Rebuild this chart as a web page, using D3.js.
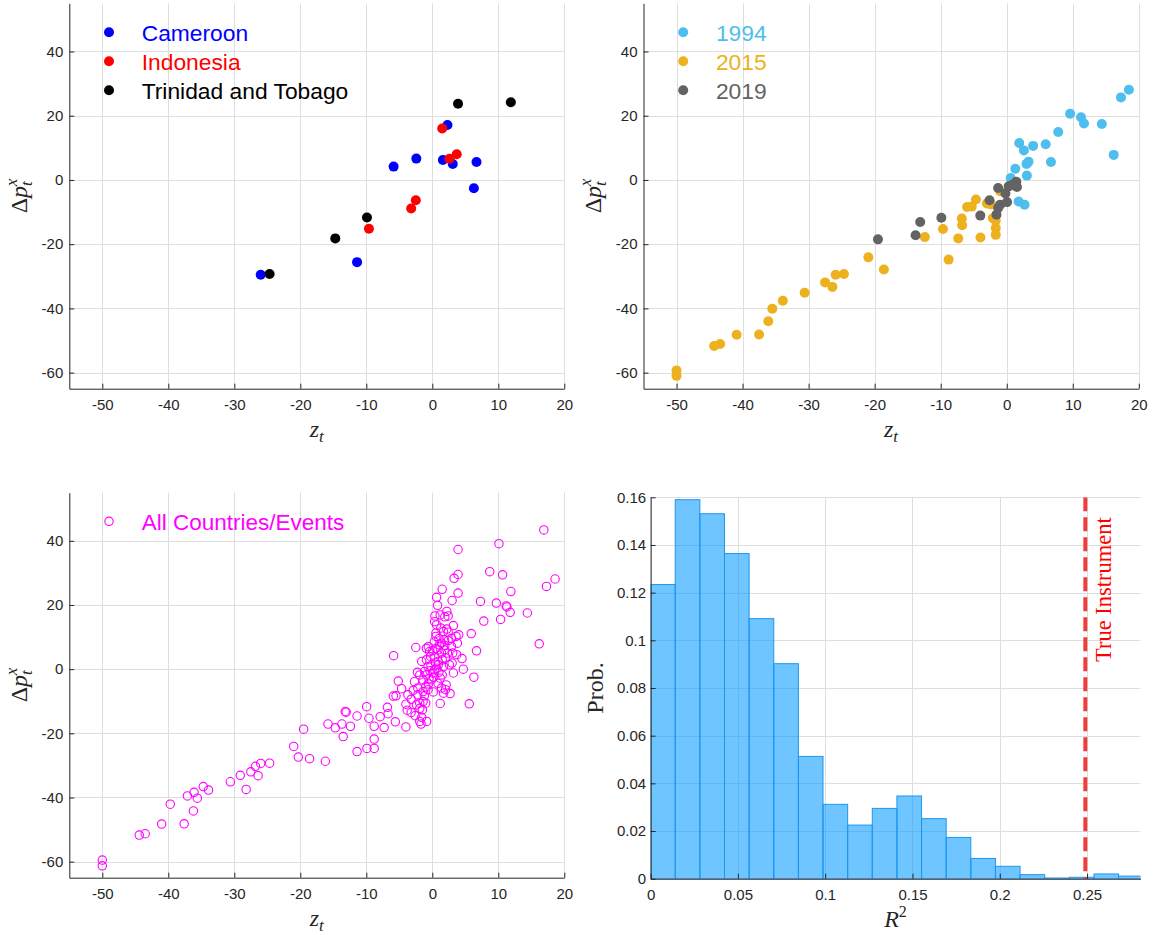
<!DOCTYPE html>
<html>
<head>
<meta charset="utf-8">
<script src="https://cdn.jsdelivr.net/npm/d3@7"></script>
<style>
  html, body { margin: 0; padding: 0; background: #fff; }
  svg { display: block; }
</style>
</head>
<body>
<svg id="fig" width="1155" height="935"></svg>
<script>
// ---------- data ----------
// [z_t, Δp_t^x] pairs per country
const cameroon = [[-26.0,-29.5],[-5.86,4.15],[-2.42,6.64],[1.6,6.2],[2.3,17.1],[3.1,4.98],[6.7,5.6],[6.3,-2.6],[-11.4,-25.6]];
const indonesia = [[1.5,16.0],[2.6,6.6],[3.7,8.0],[-2.5,-6.3],[-3.2,-8.9],[-9.6,-15.2]];
const trinidad = [[3.9,23.7],[11.9,24.2],[-9.9,-11.7],[-14.7,-18.2],[-24.65,-29.3]];

// [z_t, Δp_t^x] pairs per event year
const year1994 = [[18.5,28.1],[17.3,25.7],[9.6,20.6],[11.25,19.5],[11.7,17.6],[14.4,17.4],[7.8,14.9],[1.9,11.5],[2.6,9.2],[4.0,10.6],[5.9,11.1],[16.2,7.8],[6.7,5.6],[3.3,5.7],[3.0,5.0],[1.3,3.5],[3.05,1.35],[0.6,0.6],[1.8,-6.7],[2.7,-7.7]];
const year2015 = [[-50,-59.3],[-50,-61.0],[-44.3,-51.7],[-43.4,-51.1],[-40.9,-48.2],[-37.5,-48.1],[-36.1,-44.0],[-35.5,-40.1],[-33.9,-37.6],[-30.6,-35.1],[-27.5,-31.9],[-26.4,-33.3],[-25.9,-29.5],[-24.65,-29.3],[-20.95,-24.1],[-18.6,-27.9],[-12.4,-17.8],[-9.65,-15.3],[-8.8,-24.8],[-7.34,-18.2],[-6.8,-12.0],[-6.75,-14.1],[-6.0,-8.4],[-5.3,-8.3],[-4.66,-6.1],[-3.97,-17.9],[-3.0,-7.3],[-2.4,-7.6],[-2.1,-11.9],[-1.66,-12.7],[-1.66,-15.0],[-1.66,-17.1],[-1.0,-3.5]];
const year2019 = [[-19.5,-18.5],[-13.8,-17.2],[-13.1,-13.1],[-9.9,-11.8],[-4.0,-11.1],[-2.6,-6.3],[-1.3,-2.5],[-1.55,-10.8],[-1.3,-8.7],[-1.0,-7.7],[-0.2,-4.2],[0.05,-6.9],[0.3,-2.0],[1.45,-0.6],[1.55,-2.2],[0.85,-1.5]];

// every country/event
const allEvents = [
[-50,-59.5],[-50,-61.3],[-44.4,-51.7],[-43.5,-51.3],[-41.0,-48.3],[-39.7,-42.1],[-37.6,-48.2],[-37.1,-39.5],[-36.1,-38.4],[-36.2,-44.2],[-35.6,-40.2],[-34.7,-36.6],[-33.9,-37.7],[-30.6,-35.1],[-29.1,-33.1],[-28.2,-37.5],[-27.5,-32.0],[-26.8,-30.3],[-26.4,-33.2],[-26.0,-29.4],[-24.65,-29.3],[-21.0,-24.1],[-20.3,-27.4],[-19.5,-18.7],[-18.6,-27.9],[-16.2,-28.7],[-15.8,-17.1],[-14.7,-18.3],[-13.7,-17.1],[-13.5,-21.0],[-13.2,-13.2],[-13.05,-13.4],[-12.4,-17.8],[-11.4,-14.6],[-11.4,-25.7],[-9.95,-11.7],[-9.9,-24.7],[-9.6,-15.3],[-8.8,-17.8],[-8.8,-21.8],[-8.8,-24.7],[-7.9,-14.8],[-7.3,-18.2],[-6.8,-11.9],[-6.7,-13.9],[-5.86,4.2],[-5.9,-8.4],[-5.5,-8.3],[-5.6,-16.4],[-5.15,-3.7],[-4.65,-6.1],[-4.0,-10.9],[-4.0,-18.0],[-3.8,-12.8],[-3.2,-9.4],[-2.9,-6.6],[-2.7,-3.9],[-2.6,-14.5],[-2.5,6.75],[-2.25,-1.0],[-2.2,-5.9],[-1.9,-12.2],[-1.7,-17.1],[-1.6,2.4],[-1.6,-15.0],[-1.5,-12.7],[-1.4,-10.1],[-1.4,-3.4],[-1.2,-8.3],[-1.0,-10.6],[-0.86,-16.3],[-0.6,7.0],[-0.9,-1.8],[-0.6,-4.6],[-0.35,-0.5],[-0.1,-3.3],[0.05,5.7],[0.15,-7.1],[0.4,3.9],[0.65,22.4],[0.8,19.9],[0.4,16.6],[0.65,13.8],[0.55,10.2],[1.2,-10.7],[1.5,24.9],[1.2,16.9],[1.3,12.8],[1.4,8.1],[1.1,7.6],[0.9,1.35],[1.5,-1.8],[1.7,-7.5],[2.0,-6.4],[2.2,18.0],[2.4,16.6],[2.2,12.5],[2.3,5.0],[2.7,-7.6],[3.0,21.4],[3.2,13.6],[3.1,5.0],[3.0,1.9],[3.2,-1.2],[3.3,28.3],[3.9,37.3],[3.9,29.5],[3.9,23.7],[3.8,8.1],[4.0,10.7],[4.5,3.3],[4.7,0],[5.6,-10.8],[5.9,11.1],[6.3,-2.5],[6.7,5.7],[7.3,21.1],[7.8,15.0],[8.7,30.4],[9.7,20.6],[10.1,39.1],[10.35,15.5],[10.65,29.4],[11.2,19.7],[11.3,19.4],[11.8,17.7],[11.9,24.2],[14.4,17.5],[16.2,7.9],[16.9,43.4],[17.3,25.8],[18.6,28.1],
[1.9,16.3],[0.35,14.8],[0.55,11.2],[1.7,11.7],[2.4,11.5],[3.6,10.2],[2.9,9.6],[2.4,8.9],[1.9,7.4],[0.55,6.5],[1.4,5.0],[3.7,4.5],[-0.9,2.9],[-0.25,3.9],[0.9,2.4],[0.65,0.3],[1.7,0.8],[0.15,-1.25],[1.2,-2.8],[1.4,-5.9],[-0.9,6.5],[-0.4,5.5],[0.86,6.0],[1.87,9.1],[2.9,7.1],[2.6,1.35],[1.5,2.9],[0.35,-0.2],[-0.65,0.8],[-1.2,-0.7],[-1.9,-1.8],[-3.7,-8.0],[-2.2,-8.0],[-1.4,-7.0],[-0.65,-6.4],[0.86,-4.4],[2.1,-4.9],[-1.9,-10.6],[-2.4,-11.1],[-1.9,-16.3],[-3.2,-13.5],
[0.2,-2.5],[-0.5,-3.0],[1.0,-1.0],[0.5,2.0],[-1.0,-5.5],[2.0,3.5],[1.8,6.0],[0.3,8.5],[1.0,9.5],[-0.2,1.0]
];

// R^2 histogram: probability per bin, bins start at 0
const r2BinWidth = 0.014108;
const r2Prob = [0.1234,0.1590,0.1531,0.1364,0.1091,0.0902,0.0513,0.0312,0.0225,0.0295,0.0347,0.0252,0.0173,0.0085,0.0052,0.0017,0.0003,0.0006,0.0020,0.0011];
const trueInstrumentR2 = 0.249;

// axis ticks
const zTicks = [-50,-40,-30,-20,-10,0,10,20];
const dpTicks = [-60,-40,-20,0,20,40];
const r2Ticks = [0,0.05,0.1,0.15,0.2,0.25];
const probTicks = [0,0.02,0.04,0.06,0.08,0.1,0.12,0.14,0.16];

const countryLegend = ["Cameroon","Indonesia","Trinidad and Tobago"];
const yearLegend = ["1994","2015","2019"];
const allLegend = "All Countries/Events";
const lineLabel = "True Instrument";

// ---------- drawing ----------
const svg = d3.select("#fig");
const SANS = "'Liberation Sans', Arial, Helvetica, sans-serif";
const SERIF = "'Liberation Serif', 'Times New Roman', serif";
const AXC = "#262626";
const GRID = "#dedede";

let clipId = 0;
function panel(box, xDom, yDom, xTicks, yTicks, fmt, yPad) {
  const g = svg.append("g");
  const x = d3.scaleLinear().domain(xDom).range([box.x0, box.x1]);
  const y = d3.scaleLinear().domain(yDom).range([box.y1, box.y0]);
  const grid = g.append("g").attr("stroke", GRID).attr("stroke-width", 1);
  grid.selectAll(".gx").data(xTicks).join("line")
    .attr("x1", d => Math.round(x(d)) + 0.5).attr("x2", d => Math.round(x(d)) + 0.5)
    .attr("y1", box.y0).attr("y2", box.y1);
  grid.selectAll(".gy").data(yTicks).join("line")
    .attr("y1", d => Math.round(y(d)) + 0.5).attr("y2", d => Math.round(y(d)) + 0.5)
    .attr("x1", box.x0).attr("x2", box.x1);
  const id = "clip" + (clipId++);
  svg.append("clipPath").attr("id", id).append("rect")
    .attr("x", box.x0).attr("y", box.y0).attr("width", box.x1 - box.x0).attr("height", box.y1 - box.y0);
  const plot = g.append("g").attr("clip-path", `url(#${id})`);
  const axes = g.append("g");
  const ax = axes.append("g").attr("transform", `translate(0,${box.y1})`)
    .call(d3.axisBottom(x).tickValues(xTicks).tickFormat(fmt).tickSizeInner(-5).tickSizeOuter(0).tickPadding(11));
  const ay = axes.append("g").attr("transform", `translate(${box.x0},0)`)
    .call(d3.axisLeft(y).tickValues(yTicks).tickFormat(fmt).tickSizeInner(-5).tickSizeOuter(0).tickPadding(yPad));
  [ax, ay].forEach(a => {
    a.selectAll("path").attr("stroke", AXC).attr("stroke-width", 1);
    a.selectAll("line").attr("stroke", AXC);
    a.selectAll("text").attr("fill", AXC).attr("font-family", SANS).attr("font-size", 15);
  });
  return { g, x, y, plot, axes };
}

const numFmt = d => String(+d.toFixed(2));

function dpLabel(cx, cy) {
  const t = svg.append("text").attr("transform", `translate(${cx},${cy}) rotate(-90)`)
    .attr("text-anchor", "middle").attr("font-family", SERIF).attr("font-size", 24).attr("fill", AXC);
  t.append("tspan").text("Δ");
  t.append("tspan").attr("font-style", "italic").text("p");
  t.append("tspan").attr("font-style", "italic").attr("font-size", 17).attr("dy", 5).text("t");
  t.append("tspan").attr("font-style", "italic").attr("font-size", 17).attr("dx", -5).attr("dy", -15).text("x");
}
function zLabel(cx, by) {
  const t = svg.append("text").attr("x", cx).attr("y", by).attr("text-anchor", "middle")
    .attr("font-family", SERIF).attr("font-size", 24).attr("fill", AXC);
  t.append("tspan").attr("font-style", "italic").text("z");
  t.append("tspan").attr("font-style", "italic").attr("font-size", 17).attr("dy", 5).text("t");
}

function dots(p, data, color) {
  p.plot.append("g").selectAll("circle").data(data).join("circle")
    .attr("cx", d => p.x(d[0])).attr("cy", d => p.y(d[1])).attr("r", 5).attr("fill", color);
}
function legend(x0, y0, items) {
  items.forEach((it, i) => {
    const yy = y0 + i * 29;
    svg.append("circle").attr("cx", x0).attr("cy", yy).attr("r", 5).attr("fill", it.color);
    svg.append("text").attr("x", x0 + 32.7).attr("y", yy + 8.5)
      .attr("font-family", SANS).attr("font-size", 22.8).attr("fill", it.color).text(it.label);
  });
}

// --- top left: countries ---
const tl = panel({x0: 69.3, x1: 564.3, y0: 3.3, y1: 388.7}, [-55, 20], [-65, 55], zTicks, dpTicks, numFmt, 6);
dots(tl, cameroon, "#0000ff");
dots(tl, indonesia, "#ff0000");
dots(tl, trinidad, "#000000");
legend(109, 32.3, [
  {label: countryLegend[0], color: "#0000ff"},
  {label: countryLegend[1], color: "#ff0000"},
  {label: countryLegend[2], color: "#000000"}]);
dpLabel(27, 196);
zLabel(316.8, 437);

// --- top right: event years ---
const tr = panel({x0: 643.5, x1: 1138.8, y0: 3.3, y1: 388.7}, [-55, 20], [-65, 55], zTicks, dpTicks, numFmt, 6);
const c1994 = "#4dbeee", c2015 = "#edb120", c2019 = "#636363";
dots(tr, year1994, c1994);
dots(tr, year2015, c2015);
dots(tr, year2019, c2019);
legend(683.2, 32.3, [
  {label: yearLegend[0], color: c1994},
  {label: yearLegend[1], color: c2015},
  {label: yearLegend[2], color: c2019}]);
dpLabel(601, 196);
zLabel(891, 437);

// --- bottom left: all events ---
const bl = panel({x0: 69.3, x1: 564.3, y0: 492.7, y1: 877.7}, [-55, 20], [-65, 55], zTicks, dpTicks, numFmt, 6);
bl.plot.append("g").selectAll("circle").data(allEvents).join("circle")
  .attr("cx", d => bl.x(d[0])).attr("cy", d => bl.y(d[1])).attr("r", 4.2)
  .attr("fill", "none").attr("stroke", "#ff00ff").attr("stroke-width", 1.1);
svg.append("circle").attr("cx", 109).attr("cy", 521.3).attr("r", 4.2)
  .attr("fill", "none").attr("stroke", "#ff00ff").attr("stroke-width", 1.1);
svg.append("text").attr("x", 141.7).attr("y", 529.5).attr("font-family", SANS).attr("font-size", 22.5)
  .attr("fill", "#ff00ff").text(allLegend);
dpLabel(27, 685);
zLabel(316.8, 926);

// --- bottom right: R^2 histogram ---
const br = panel({x0: 650.6, x1: 1140.5, y0: 497.3, y1: 878.7}, [0, 0.2806], [0, 0.16], r2Ticks, probTicks, numFmt, 4.5);
br.plot.append("g").selectAll("rect").data(r2Prob).join("rect")
  .attr("x", (d, i) => br.x(i * r2BinWidth))
  .attr("width", (d, i) => br.x((i + 1) * r2BinWidth) - br.x(i * r2BinWidth))
  .attr("y", d => br.y(d))
  .attr("height", d => br.y(0) - br.y(d))
  .attr("fill", "rgb(0,153,255)").attr("fill-opacity", 0.57)
  .attr("stroke", "#1f96f0").attr("stroke-width", 1);
br.plot.append("line")
  .attr("x1", br.x(trueInstrumentR2)).attr("x2", br.x(trueInstrumentR2))
  .attr("y1", br.y(0.16)).attr("y2", br.y(0))
  .attr("stroke", "#f03c3c").attr("stroke-width", 4).attr("stroke-dasharray", "14,6");
br.g.node().appendChild(br.axes.node());
svg.append("text").attr("transform", `translate(1111,662) rotate(-90)`)
  .attr("font-family", SERIF).attr("font-size", 22.5).attr("fill", "#ff0000").text(lineLabel);
svg.append("text").attr("transform", `translate(603,688) rotate(-90)`).attr("text-anchor", "middle")
  .attr("font-family", SERIF).attr("font-size", 24).attr("fill", AXC).text("Prob.");
const rl = svg.append("text").attr("x", 895.5).attr("y", 927).attr("text-anchor", "middle")
  .attr("font-family", SERIF).attr("font-size", 24).attr("fill", AXC);
rl.append("tspan").attr("font-style", "italic").text("R");
rl.append("tspan").attr("font-size", 16).attr("dy", -10).text("2");
</script>
</body>
</html>
